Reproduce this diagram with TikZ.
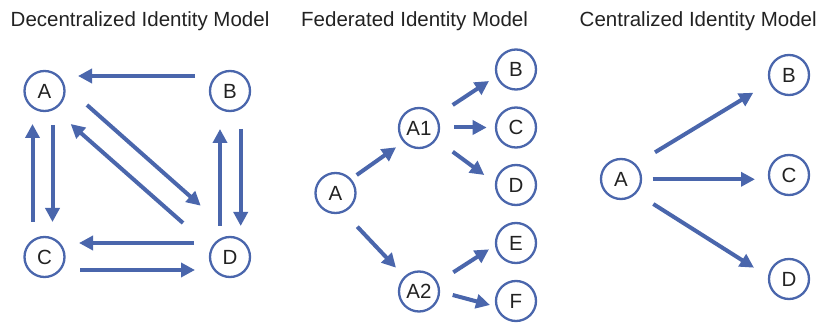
\documentclass[tikz,border=0pt]{standalone}
\usepackage{fontspec}
\setmainfont{Liberation Sans}
\usetikzlibrary{arrows.meta,calc}
\definecolor{idblue}{HTML}{4A66AC}
\definecolor{idtext}{HTML}{222222}
\begin{document}
\begin{tikzpicture}[x=1pt,y=-1pt,
  idnode/.style={circle,draw=idblue,line width=2.3pt,minimum size=40pt,inner sep=0pt,
    text=idtext,font=\fontsize{20.5}{24}\selectfont},
  title/.style={anchor=base west,inner sep=0pt,text=idtext,font=\fontsize{20.5}{24}\selectfont},
  arr/.style={draw=idblue,line width=4pt,-{Triangle[length=14pt,width=14pt]}}]
\useasboundingbox (0,0) rectangle (823,323);
% titles
\node[title] (t1) at (10.5,26.7) {Decentralized Identity Model};
\node[title] (t2) at (301,26.7) {Federated Identity Model};
\node[title] (t3) at (579.5,26.7) {Centralized Identity Model};
% decentralized
\node[idnode] (dA) at (44.5,91) {A};
\node[idnode] (dB) at (230,91) {B};
\node[idnode] (dC) at (44.5,257) {C};
\node[idnode] (dD) at (230,257) {D};
\draw[arr] ($(dB)+(-35,-15)$) -- ($(dA)+(33.5,-15)$);
\draw[arr] ($(dA)+(8,34)$) -- ($(dC)+(8,-35)$);
\draw[arr] ($(dC)+(-12,-35)$) -- ($(dA)+(-12,33)$);
\draw[arr] ($(dB)+(10.7,38)$) -- ($(dD)+(10.7,-31)$);
\draw[arr] ($(dD)+(-10,-31)$) -- ($(dB)+(-10,38)$);
\draw[arr] ($(dD)+(-36,-14)$) -- ($(dC)+(34.5,-14)$);
\draw[arr] ($(dC)+(35.5,13)$) -- ($(dD)+(-35,13)$);
\draw[arr] ($(dA)+(42.5,14)$) -- ($(dD)+(-29.3,-51.3)$);
\draw[arr] ($(dD)+(-47,-34)$) -- ($(dA)+(26.2,33)$);
% federated
\node[idnode] (fA) at (335.5,193) {A};
\node[idnode] (fA1) at (419,128) {A1};
\node[idnode] (fA2) at (419,291.5) {A2};
\node[idnode] (fB) at (516,69.5) {B};
\node[idnode] (fC) at (516,127.5) {C};
\node[idnode] (fD) at (516,185) {D};
\node[idnode] (fE) at (516,243) {E};
\node[idnode] (fF) at (516,301) {F};
\draw[arr] ($(fA)+(21.2,-18)$) -- ($(fA1)+(-23,19.3)$);
\draw[arr] ($(fA)+(21.8,33.7)$) -- ($(fA2)+(-23,-23.8)$);
\draw[arr] ($(fA1)+(33.7,-23)$) -- ($(fB)+(-27,11.5)$);
\draw[arr] ($(fA1)+(35.3,-0.5)$) -- ($(fC)+(-29.3,0)$);
\draw[arr] ($(fA1)+(33.7,23.7)$) -- ($(fD)+(-31.7,-10)$);
\draw[arr] ($(fA2)+(34.3,-19.2)$) -- ($(fE)+(-27,6.3)$);
\draw[arr] ($(fA2)+(33.7,3.5)$) -- ($(fF)+(-26,4)$);
% centralized
\node[idnode] (cA) at (621,179) {A};
\node[idnode] (cB) at (789,75) {B};
\node[idnode] (cC) at (789,175) {C};
\node[idnode] (cD) at (789,279) {D};
\draw[arr] ($(cA)+(34,-26.7)$) -- ($(cB)+(-35.7,17.7)$);
\draw[arr] ($(cA)+(31.7,0.3)$) -- ($(cC)+(-34,4.3)$);
\draw[arr] ($(cA)+(32.3,25)$) -- ($(cD)+(-35,-11.3)$);
\end{tikzpicture}
\end{document}
